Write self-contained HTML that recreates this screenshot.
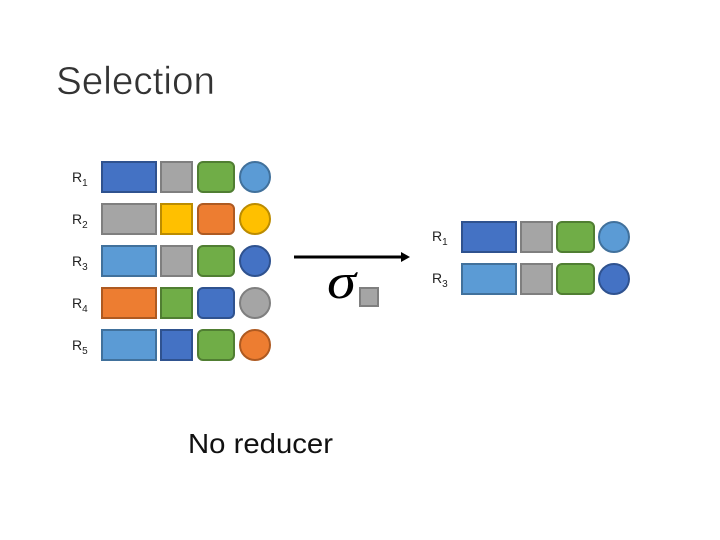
<!DOCTYPE html><html><head><style>
body{margin:0;width:720px;height:540px;background:#fff;font-family:"Liberation Sans",sans-serif;overflow:hidden}
</style></head><body>
<svg width="720" height="540" xmlns="http://www.w3.org/2000/svg" style="position:absolute;left:0;top:0">
<text x="56" y="94" font-size="39" fill="#333" font-family="Liberation Sans" textLength="159" lengthAdjust="spacingAndGlyphs" stroke="#fff" stroke-width="0.6">Selection</text>
<g font-size="14" fill="#222">
<text x="72" y="182">R<tspan font-size="10" dy="4">1</tspan></text>
<text x="72" y="224">R<tspan font-size="10" dy="4">2</tspan></text>
<text x="72" y="266">R<tspan font-size="10" dy="4">3</tspan></text>
<text x="72" y="308">R<tspan font-size="10" dy="4">4</tspan></text>
<text x="72" y="350">R<tspan font-size="10" dy="4">5</tspan></text>
<text x="432" y="241">R<tspan font-size="10" dy="4">1</tspan></text>
<text x="432" y="283">R<tspan font-size="10" dy="4">3</tspan></text>
</g>
<g stroke-width="2">
<rect x="102" y="162" width="54" height="30" fill="#4472c4" stroke="#2f528f"/>
<rect x="161" y="162" width="31" height="30" fill="#a5a5a5" stroke="#7f7f7f"/>
<rect x="198" y="162" width="36" height="30" rx="5" fill="#70ad47" stroke="#507e32"/>
<circle cx="255" cy="177" r="15" fill="#5b9bd5" stroke="#41719c"/>
<rect x="102" y="204" width="54" height="30" fill="#a5a5a5" stroke="#7f7f7f"/>
<rect x="161" y="204" width="31" height="30" fill="#ffc000" stroke="#bc8c00"/>
<rect x="198" y="204" width="36" height="30" rx="5" fill="#ed7d31" stroke="#ae5a21"/>
<circle cx="255" cy="219" r="15" fill="#ffc000" stroke="#bc8c00"/>
<rect x="102" y="246" width="54" height="30" fill="#5b9bd5" stroke="#41719c"/>
<rect x="161" y="246" width="31" height="30" fill="#a5a5a5" stroke="#7f7f7f"/>
<rect x="198" y="246" width="36" height="30" rx="5" fill="#70ad47" stroke="#507e32"/>
<circle cx="255" cy="261" r="15" fill="#4472c4" stroke="#2f528f"/>
<rect x="102" y="288" width="54" height="30" fill="#ed7d31" stroke="#ae5a21"/>
<rect x="161" y="288" width="31" height="30" fill="#70ad47" stroke="#507e32"/>
<rect x="198" y="288" width="36" height="30" rx="5" fill="#4472c4" stroke="#2f528f"/>
<circle cx="255" cy="303" r="15" fill="#a5a5a5" stroke="#7f7f7f"/>
<rect x="102" y="330" width="54" height="30" fill="#5b9bd5" stroke="#41719c"/>
<rect x="161" y="330" width="31" height="30" fill="#4472c4" stroke="#2f528f"/>
<rect x="198" y="330" width="36" height="30" rx="5" fill="#70ad47" stroke="#507e32"/>
<circle cx="255" cy="345" r="15" fill="#ed7d31" stroke="#ae5a21"/>
<rect x="462" y="222" width="54" height="30" fill="#4472c4" stroke="#2f528f"/>
<rect x="521" y="222" width="31" height="30" fill="#a5a5a5" stroke="#7f7f7f"/>
<rect x="557" y="222" width="37" height="30" rx="5" fill="#70ad47" stroke="#507e32"/>
<circle cx="614" cy="237" r="15" fill="#5b9bd5" stroke="#41719c"/>
<rect x="462" y="264" width="54" height="30" fill="#5b9bd5" stroke="#41719c"/>
<rect x="521" y="264" width="31" height="30" fill="#a5a5a5" stroke="#7f7f7f"/>
<rect x="557" y="264" width="37" height="30" rx="5" fill="#70ad47" stroke="#507e32"/>
<circle cx="614" cy="279" r="15" fill="#4472c4" stroke="#2f528f"/>
<rect x="360" y="288" width="18" height="18" fill="#a5a5a5" stroke="#7f7f7f"/>
</g>
<line x1="294" y1="257" x2="403" y2="257" stroke="#000" stroke-width="3"/>
<polygon points="410,257 401,252 401,262" fill="#000"/>
<text x="327" y="298" font-size="50" font-style="italic" font-family="Liberation Serif" fill="#000" textLength="29" lengthAdjust="spacingAndGlyphs">σ</text>
<text x="188" y="453" font-size="28" fill="#111" textLength="145" lengthAdjust="spacingAndGlyphs">No reducer</text>
</svg>
</body></html>
